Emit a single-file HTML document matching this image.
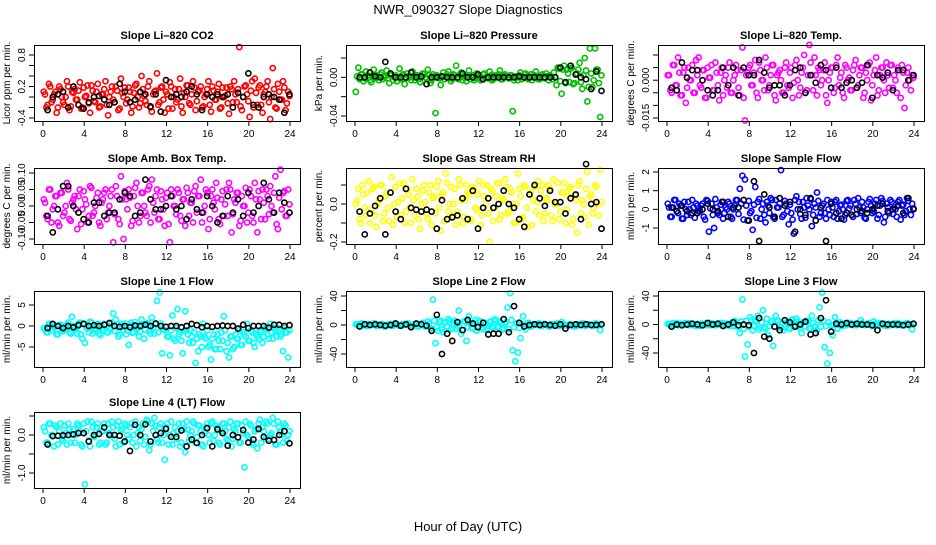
<!DOCTYPE html>
<html><head><meta charset="utf-8"><style>
body{margin:0;background:#fff}
svg text{font-family:"Liberation Sans",Arial,sans-serif;fill:#000}
</style></head><body>
<svg id="c" width="936" height="540" xmlns="http://www.w3.org/2000/svg">
<text x="468" y="14" text-anchor="middle" font-size="13">NWR_090327  Slope Diagnostics</text>
<text x="468" y="531" text-anchor="middle" font-size="13">Hour of Day (UTC)</text>
</svg>
<script>
const xTicks=[0,4,8,12,16,20,24];
const co2C=[0.1,-0.2,0.25,-0.1,0.05,-0.3,0.2,0.0,-0.15,0.3,-0.25,0.1,0.15,-0.05,0.28,-0.2,0.0,0.22,-0.3,0.12,-0.1,0.25,-0.18,0.05,0.3,-0.35,0.1,-0.05,0.2,-0.25,0.35,0.0,-0.12,0.18,-0.3,0.08,0.25,-0.2,0.4,0.02,-0.15,0.3,-0.28,0.1,0.45,-0.1,0.2,-0.3,0.05,0.28,-0.22,0.15,-0.05,0.35,-0.3,0.0,0.22,-0.15,0.3,-0.25,0.1,0.2,-0.18,0.05,0.3,-0.28,0.12,-0.05,0.25,-0.2,0.0,0.18,-0.32,0.15,0.3,-0.1,0.95,-0.25,0.2,0.05,-0.38,0.3,0.35,-0.15,0.22,-0.3,0.1,0.3,-0.42,0.55,-0.2,0.25,-0.05,0.3,-0.25,0.1];
const co2D=[0.05,-0.15,0.2,-0.05,0.1,-0.2,0.15,-0.1,0.0,0.2,-0.18,0.08,-0.05,0.12,-0.22,0.18,0.02,-0.12,0.22,-0.08,0.1,-0.2,0.05,0.15,-0.15,0.0,0.2,-0.1,0.12,-0.22,0.08,0.18,-0.05,0.1,-0.18,0.22,0.0,-0.12,0.15,-0.08,0.2,-0.2,0.05,0.12,-0.15,0.18,-0.05,0.1,-0.22,0.2,0.0,-0.1,0.15,-0.18,0.08,0.22,-0.12,0.05,0.18,-0.08,0.12,-0.2,0.0,0.15,-0.15,0.2,-0.05,0.1,-0.22,0.18,0.02,-0.12,0.2,-0.1,0.05,0.15,-0.18,0.0,0.22,-0.08,0.12,-0.2,0.08,0.18,-0.15,0.05,0.2,-0.1,0.0,0.15,-0.22,0.1,-0.05,0.18,-0.12,0.02];
const co2B=[-0.25,0.0,0.05,0.1,-0.2,0.2,-0.15,-0.22,-0.1,0.0,0.02,-0.05,-0.15,-0.1,0.25,0.1,-0.1,-0.05,0.1,0.05,-0.18,0.05,-0.28,0.32,0.0,0.05,0.0,0.1,0.2,0.05,-0.25,0.05,0.0,0.05,0.0,0.05,-0.2,0.08,0.0,0.45,-0.15,-0.2,0.0,0.05,0.0,-0.05,-0.3,0.05];
const presC=[-0.015,0.01,0.003,-0.004,0.006,0.0,-0.005,0.008,0.002,-0.003,0.005,0.0,0.007,-0.006,0.003,0.0,-0.004,0.009,0.002,-0.007,0.004,0.0,0.006,-0.003,0.002,-0.005,0.004,0.0,0.008,-0.006,0.003,-0.037,0.001,-0.008,0.005,0.0,0.006,-0.004,0.003,0.012,-0.002,0.005,0.0,-0.004,0.007,0.002,-0.003,0.004,0.001,-0.002,0.004,0.0,0.006,-0.003,0.002,0.0,0.007,-0.002,0.003,0.0,0.002,-0.035,0.001,-0.003,0.005,0.0,0.004,-0.002,0.003,0.0,0.006,-0.002,0.002,0.0,0.004,-0.003,0.001,0.005,-0.008,0.009,-0.017,0.012,0.008,-0.005,0.01,-0.006,0.004,0.015,-0.012,0.02,-0.025,0.03,-0.01,0.03,0.008,-0.041];
const presD=[0.001,-0.002,0.003,-0.001,0.002,-0.003,0.002,-0.001,0.0,0.003,-0.002,0.001,-0.001,0.002,-0.003,0.002,0.0,-0.002,0.003,-0.001,0.001,-0.003,0.001,0.002,-0.002,0.0,0.003,-0.001,0.002,-0.003,0.001,0.002,-0.001,0.001,-0.002,0.003,0.0,-0.002,0.002,-0.001,0.003,-0.003,0.001,0.002,-0.002,0.002,-0.001,0.001,-0.003,0.003,0.0,-0.001,0.002,-0.002,0.001,0.003,-0.002,0.001,0.002,-0.001,0.002,-0.003,0.0,0.002,-0.002,0.003,-0.001,0.001,-0.003,0.002,0.0,-0.002,0.003,-0.001,0.001,0.002,-0.002,0.0,0.01,-0.004,0.008,-0.006,0.004,0.009,-0.007,0.003,0.008,-0.005,0.002,0.007,-0.01,0.004,-0.003,0.008,-0.006,0.002];
const presB=[0.0,0.0,0.005,0.001,0.0,0.016,0.004,0.0,0.0,0.0,0.005,0.0,0.001,-0.007,0.0,0.0,0.001,0.0,0.0,0.0,0.004,0.0,0.0,0.003,-0.002,0.0,0.0,0.0,0.0,0.0,0.0,0.001,0.0,0.0,0.0,0.0,0.0,0.0,0.0,0.01,-0.005,0.012,0.003,0.0,-0.002,-0.012,0.006,-0.014];
const ltC=[0.002,-0.004,0.006,-0.002,0.009,-0.006,0.003,-0.009,0.005,0.0,-0.005,0.008,0.009,-0.003,0.004,-0.007,0.001,0.006,-0.004,0.003,-0.008,0.005,0.0,-0.003,0.007,-0.005,0.002,0.004,-0.006,0.013,-0.016,0.003,0.006,-0.002,0.008,-0.007,0.004,0.0,0.009,-0.004,0.002,0.006,-0.008,0.003,0.0,-0.005,0.007,-0.003,0.005,-0.001,0.008,-0.006,0.003,0.01,-0.004,0.014,0.002,0.009,-0.006,0.004,0.0,0.007,-0.009,0.003,0.005,-0.003,0.009,0.001,-0.005,0.006,0.0,-0.004,0.004,0.008,-0.002,0.005,-0.007,0.003,0.006,-0.008,0.002,0.009,-0.004,0.005,0.0,0.007,-0.003,0.006,0.002,-0.005,0.004,0.006,-0.011,0.003,0.0,0.002];
const ltD=[0.002,-0.005,0.006,-0.002,0.003,-0.006,0.005,-0.003,0.0,0.006,-0.005,0.002,-0.002,0.004,-0.007,0.005,0.001,-0.004,0.007,-0.002,0.003,-0.006,0.002,0.005,-0.005,0.0,0.006,-0.003,0.004,-0.007,0.002,0.005,-0.002,0.003,-0.005,0.007,0.0,-0.004,0.005,-0.002,0.006,-0.006,0.002,0.004,-0.005,0.005,-0.002,0.003,-0.007,0.006,0.0,-0.003,0.005,-0.005,0.002,0.007,-0.004,0.002,0.005,-0.002,0.004,-0.006,0.0,0.005,-0.005,0.006,-0.002,0.003,-0.007,0.005,0.001,-0.004,0.006,-0.003,0.002,0.005,-0.005,0.0,0.007,-0.002,0.004,-0.006,0.002,0.005,-0.005,0.002,0.006,-0.003,0.0,0.005,-0.007,0.003,-0.002,0.005,-0.004,0.001];
const ltB=[-0.003,-0.004,0.007,0.001,0.004,0.004,0.0,-0.004,-0.006,-0.004,0.005,-0.002,0.005,-0.006,0.005,0.002,0.002,0.008,0.003,-0.003,-0.002,-0.002,-0.006,-0.002,0.004,0.005,-0.005,0.002,-0.001,0.006,0.004,-0.003,0.005,-0.003,-0.001,0.0,-0.003,-0.001,0.006,-0.007,0.002,0.001,0.003,-0.004,0.004,0.004,0.0,0.002];
const ambC=[0.02,-0.03,0.05,-0.05,0.0,0.03,-0.06,0.04,-0.02,0.07,-0.04,0.01,0.03,-0.07,0.05,-0.01,0.02,-0.05,0.06,-0.03,0.0,0.04,-0.06,0.02,0.05,-0.02,0.03,-0.11,0.06,-0.04,0.09,-0.1,0.02,0.05,-0.06,0.03,0.07,-0.05,0.04,0.0,-0.03,0.06,0.08,-0.02,0.05,-0.04,0.02,-0.06,0.04,-0.11,0.03,0.0,0.05,-0.03,0.02,-0.06,0.04,0.01,-0.05,0.06,0.03,0.08,-0.02,0.05,-0.07,0.03,0.01,0.07,-0.04,0.02,-0.03,0.05,0.07,-0.08,0.02,0.04,-0.06,0.03,0.0,-0.05,0.05,-0.03,0.07,-0.08,0.02,0.05,-0.04,0.03,0.06,-0.02,0.09,-0.07,0.11,0.04,-0.03,0.05];
const ambD=[0.01,-0.04,0.05,-0.01,0.03,-0.05,0.04,-0.03,0.0,0.05,-0.045,0.02,-0.01,0.03,-0.055,0.045,0.005,-0.03,0.055,-0.02,0.025,-0.05,0.01,0.04,-0.04,0.0,0.05,-0.025,0.03,-0.055,0.02,0.045,-0.01,0.025,-0.045,0.055,0.0,-0.03,0.04,-0.02,0.05,-0.05,0.01,0.03,-0.04,0.045,-0.01,0.025,-0.055,0.05,0.0,-0.025,0.04,-0.045,0.02,0.055,-0.03,0.01,0.045,-0.02,0.03,-0.05,0.0,0.04,-0.04,0.05,-0.01,0.025,-0.055,0.045,0.005,-0.03,0.05,-0.025,0.01,0.04,-0.045,0.0,0.055,-0.02,0.03,-0.05,0.02,0.045,-0.04,0.01,0.05,-0.025,0.0,0.04,-0.055,0.025,-0.01,0.045,-0.03,0.005];
const ambB=[-0.03,-0.08,-0.01,0.06,0.06,0.0,-0.02,-0.04,-0.05,0.01,0.01,-0.03,-0.02,-0.02,0.02,0.04,0.03,-0.03,-0.02,0.08,0.02,-0.01,-0.01,0.0,0.03,-0.01,0.0,-0.04,0.02,-0.01,-0.02,0.03,0.0,-0.05,-0.03,0.03,-0.02,0.02,-0.03,0.04,-0.02,0.0,0.07,0.02,-0.02,0.04,0.01,-0.02];
const rhC=[0.0,0.08,-0.1,0.05,-0.06,0.12,-0.03,0.09,-0.12,0.02,0.1,-0.05,0.06,-0.09,0.14,0.0,-0.07,0.11,0.03,-0.1,0.08,-0.02,0.13,-0.06,0.04,-0.13,0.07,0.01,-0.08,0.1,0.03,-0.05,0.12,-0.14,0.06,0.16,-0.04,0.09,0.0,-0.11,0.13,0.02,-0.07,0.1,0.05,-0.09,0.08,-0.03,0.12,-0.06,0.04,0.1,-0.2,0.07,-0.02,0.11,-0.08,0.03,0.13,-0.05,0.08,0.0,-0.1,0.16,0.04,-0.07,0.09,-0.12,0.06,0.02,-0.04,0.12,0.07,-0.09,0.03,0.1,-0.06,0.13,0.0,-0.08,0.06,0.11,-0.03,0.08,-0.11,0.05,-0.15,0.12,0.02,-0.07,0.17,0.04,-0.05,0.1,0.0,0.18];
const rhD=[0.02,-0.08,0.1,-0.02,0.06,-0.1,0.08,-0.06,0.0,0.1,-0.09,0.04,-0.02,0.06,-0.11,0.09,0.01,-0.06,0.11,-0.04,0.05,-0.1,0.02,0.08,-0.08,0.0,0.1,-0.05,0.06,-0.11,0.04,0.09,-0.02,0.05,-0.09,0.11,0.0,-0.06,0.08,-0.04,0.1,-0.1,0.02,0.06,-0.08,0.09,-0.02,0.05,-0.11,0.1,0.0,-0.05,0.08,-0.09,0.04,0.11,-0.06,0.02,0.09,-0.04,0.06,-0.1,0.0,0.08,-0.08,0.1,-0.02,0.05,-0.11,0.09,0.01,-0.06,0.1,-0.05,0.02,0.08,-0.09,0.0,0.11,-0.04,0.06,-0.1,0.04,0.09,-0.08,0.02,0.1,-0.05,0.0,0.08,-0.11,0.05,-0.02,0.09,-0.06,0.01];
const rhB=[-0.04,-0.16,-0.05,-0.01,0.03,-0.16,0.06,-0.04,-0.08,0.08,-0.02,-0.03,-0.04,-0.03,-0.04,-0.13,0.02,-0.08,-0.07,-0.06,0.03,-0.08,0.07,-0.13,-0.02,0.03,-0.02,0.0,0.07,0.0,-0.02,-0.08,-0.12,0.05,0.1,0.03,-0.01,0.07,0.01,0.01,-0.05,0.03,0.05,-0.08,0.21,0.0,0.01,-0.13];
const sfC=[0.3,-0.4,0.1,0.5,-0.2,0.2,-0.5,0.0,0.4,-0.3,0.1,0.3,-0.1,0.2,-0.4,0.5,-1.2,0.3,-1.0,0.1,-0.3,0.4,-0.2,0.0,0.3,-0.5,0.2,0.5,1.1,1.8,1.6,-0.6,-0.2,-1.1,1.2,0.4,-0.5,0.3,-0.7,0.2,0.6,-0.4,0.5,0.1,2.1,-0.3,0.3,-0.8,-0.2,-1.3,0.7,0.4,-0.5,0.1,0.6,0.0,-0.9,0.3,0.9,-0.4,0.2,-0.2,0.5,-0.3,0.1,0.4,-0.5,0.2,0.0,-0.3,0.5,0.2,-0.4,0.3,0.6,-0.2,0.1,-0.5,0.4,0.2,-0.1,0.5,-0.3,0.6,-0.7,0.3,-0.2,0.4,0.1,-0.4,0.5,0.2,-0.3,0.6,0.0,0.3];
const sfD=[0.1,-0.4,0.5,-0.1,0.3,-0.5,0.4,-0.3,0.0,0.5,-0.45,0.2,-0.1,0.3,-0.55,0.45,0.05,-0.3,0.55,-0.2,0.25,-0.5,0.1,0.4,-0.4,0.0,0.5,-0.25,0.3,-0.55,0.2,0.45,-0.1,0.25,-0.45,0.55,0.0,-0.3,0.4,-0.2,0.5,-0.5,0.1,0.3,-0.4,0.45,-0.1,0.25,-0.55,0.5,0.0,-0.25,0.4,-0.45,0.2,0.55,-0.3,0.1,0.45,-0.2,0.3,-0.5,0.0,0.4,-0.4,0.5,-0.1,0.25,-0.55,0.45,0.05,-0.3,0.5,-0.25,0.1,0.4,-0.45,0.0,0.55,-0.2,0.3,-0.5,0.2,0.45,-0.4,0.1,0.5,-0.25,0.0,0.4,-0.55,0.25,-0.1,0.45,-0.3,0.05];
const sfB=[0.1,-0.1,0.2,-0.1,-0.2,-0.2,0.0,0.3,0.0,-0.1,0.4,-0.4,0.1,0.1,0.5,-0.6,1.5,-1.7,0.8,0.1,-0.4,0.6,0.2,0.4,-1.2,0.0,-0.3,0.6,-0.6,0.1,-1.7,0.3,-0.2,-0.5,-0.2,-0.3,0.0,-0.1,-0.2,0.0,0.2,0.3,-0.1,0.0,0.2,-0.2,0.6,0.0];
const l1C=[-0.5,-1.5,0.5,-1.0,-0.3,-2.0,0.2,-1.2,-0.8,0.3,-1.5,2.2,-0.5,-1.8,0.8,-3.0,-4.0,-0.6,1.0,-1.8,-0.5,0.5,-2.2,-1.0,0.4,-1.5,-0.8,3.0,1.5,-2.5,0.5,-1.0,-2.0,-4.5,0.8,-1.5,-0.3,-2.5,1.5,-3.0,0.5,-1.2,2.0,-1.8,6.0,8.0,-6.5,-1.0,-2.5,-7.0,2.5,-3.5,4.0,-1.5,-6.5,3.5,-2.0,-1.0,-4.0,-8.8,-6.0,-2.5,0.5,-3.0,-5.0,-8.0,-2.0,-5.5,-3.5,-1.5,2.3,-6.0,-7.5,-2.5,-5.0,-3.0,-1.0,-4.5,-2.0,0.5,-3.5,-1.5,-5.0,-2.5,-1.0,-4.0,-0.5,-2.0,0.5,-3.0,-1.0,-0.5,-2.5,-6.0,-1.5,-7.5];
const l1D=[-0.5,-1.5,0.5,-1.0,0.0,-2.0,0.3,-1.2,-0.6,0.8,-1.8,0.0,-0.8,0.5,-2.0,0.6,-0.3,-1.5,0.8,-1.0,0.2,-1.8,-0.4,0.5,-1.5,-0.5,0.8,-1.2,0.3,-2.0,-0.2,0.6,-1.0,0.2,-1.6,0.9,-0.5,-1.3,0.5,-0.9,0.7,-1.8,-0.3,0.4,-1.5,0.6,-0.8,-0.2,-2.5,-1.0,-3.0,-0.5,-2.0,-3.5,-1.2,-1.0,-4.0,-2.5,-1.5,-3.0,-2.0,-5.0,-2.5,-1.0,-4.5,-3.0,-5.5,-2.0,-5.5,-3.5,-1.0,-4.0,-2.5,-5.5,-2.0,-3.0,-4.5,-1.5,-2.5,-3.5,-1.0,-4.0,-2.0,-3.0,-1.5,-2.5,-0.5,-3.0,-1.5,-0.5,-2.5,-1.0,-2.0,-0.5,-1.5,-1.0];
const l1B=[-0.5,0.5,0.0,-0.5,0.0,-0.3,0.2,0.5,0.0,0.2,0.0,0.3,0.7,0.0,-0.2,0.0,-0.3,0.1,0.0,0.3,0.0,0.6,0.0,-0.2,0.0,0.0,-0.3,0.0,0.5,0.2,-0.3,0.0,-0.2,0.0,0.1,0.0,0.0,-0.6,0.3,-0.5,0.0,0.0,0.0,-0.4,0.3,0.3,0.0,0.2];
const l2C=[1,-1,2,0,-1,1,0,2,-1,0,1,-2,0,1,-1,2,0,-1,1,0,2,-1,0,1,-2,1,3,-2,5,-4,35,-25,-8,6,-10,4,8,-6,3,-5,20,-12,5,-22,12,-4,3,-8,6,-3,2,-5,4,-2,8,-3,5,-6,2,24,44,-35,-50,-38,-18,12,-6,3,-2,1,0,2,-1,1,0,-2,1,0,2,-1,4,0,-1,1,0,-2,1,0,2,-1,1,0,-1,2,0,-7];
const l2D=[1,-1,2,0,-1,1,0,2,-1,0,1,-2,0,1,-1,2,0,-1,1,0,2,-1,0,1,-2,1,0,-1,2,-5,6,-3,4,-6,3,-2,5,-4,6,-1,3,-7,5,-3,2,-5,7,-2,4,-6,3,-1,5,-4,6,-2,3,-5,4,-6,7,-3,2,-4,1,-1,2,0,-1,1,0,2,-1,1,0,-2,1,0,2,-1,1,0,-1,1,0,-2,1,0,2,-1,1,0,-1,2,0,1];
const l2B=[-2,1,0,1,0,-1,0,2,-1,1,-3,2,1,-1,-8,14,-40,-12,-22,4,-7,7,2,-3,3,-13,-12,-12,8,-10,26,3,-2,0,1,0,1,0,-1,1,-5,0,1,0,1,0,0,1];
const l3C=[1,-1,2,0,-1,1,0,2,-1,0,1,-2,0,1,-1,2,0,-1,1,0,2,-1,0,1,-2,3,5,-3,-12,35,-45,-28,10,-8,6,12,-4,20,-6,-15,3,-30,12,5,-4,-8,3,-5,6,-3,8,-2,-12,4,5,-5,12,-3,-8,24,45,-32,-55,-40,-15,10,-6,3,-2,1,0,2,-1,1,0,6,1,0,2,-1,4,0,-1,1,0,-2,1,0,2,-1,1,0,-1,2,0,-7];
const l3D=[0,1,-1,2,0,-1,1,0,2,-1,0,1,-2,0,1,-1,2,0,-1,1,0,2,-1,0,1,-2,3,-1,4,-6,5,-3,6,-2,4,-7,3,-4,8,-2,5,-3,6,-5,2,-4,3,-6,7,-1,4,-5,3,-3,5,-6,2,-4,6,-3,5,-2,3,-1,0,2,-1,1,0,-1,2,0,1,-1,0,2,-1,1,0,-2,1,0,2,-1,1,0,-1,1,0,2,-1,0,1,-1,0,1];
const l3B=[-3,0,-1,0,1,0,-1,2,0,1,-2,0,3,-1,0,-1,-40,9,-17,-20,-3,-8,6,3,-3,0,4,-14,-12,9,34,-10,1,0,2,0,1,0,0,-1,-8,1,0,0,0,-1,0,1];
const l4C=[0.2,-0.2,0.3,0.0,-0.3,0.2,0.1,-0.1,0.25,-0.25,0.15,0.0,-0.2,0.3,0.1,-0.3,-1.3,0.35,-0.3,0.2,0.0,0.3,-0.2,0.1,-0.25,0.3,0.0,0.2,-0.3,0.35,0.1,-0.2,0.25,-0.1,0.3,0.0,-0.3,0.2,0.15,-0.25,0.4,-0.4,0.3,0.45,-0.1,0.2,-0.2,-0.65,0.3,0.0,-0.25,0.2,0.1,-0.3,0.3,-0.45,0.15,0.0,0.35,-0.2,0.25,0.1,-0.3,0.2,0.0,0.3,-0.15,0.25,-0.2,0.1,0.3,-0.1,0.2,-0.3,0.15,0.3,-0.2,0.25,-0.85,0.0,0.3,-0.2,0.1,-0.35,0.4,0.2,-0.1,0.3,0.0,0.45,-0.25,0.35,0.1,-0.2,0.25,0.0];
const l4D=[0.1,-0.2,0.3,0.0,0.25,-0.25,0.3,-0.15,0.05,0.3,-0.2,0.15,0.0,0.25,-0.25,0.3,0.1,-0.15,0.35,-0.05,0.2,-0.25,0.1,0.3,-0.2,0.05,0.35,-0.1,0.25,-0.25,0.15,0.3,0.0,0.2,-0.2,0.35,0.05,-0.15,0.3,-0.05,0.35,-0.25,0.1,0.25,-0.2,0.3,0.0,0.2,-0.25,0.35,0.05,-0.1,0.3,-0.2,0.15,0.35,-0.15,0.1,0.3,-0.05,0.25,-0.25,0.05,0.3,-0.2,0.35,0.0,0.2,-0.25,0.3,0.1,-0.15,0.35,-0.1,0.1,0.3,-0.2,0.05,0.35,-0.05,0.25,-0.25,0.15,0.3,-0.2,0.1,0.35,-0.1,0.05,0.3,-0.25,0.2,0.0,0.3,-0.15,0.1];
const l4B=[-0.25,-0.03,-0.02,-0.01,0.0,0.02,0.05,0.05,-0.17,0.0,0.03,0.2,0.0,0.0,-0.02,-0.17,-0.42,0.27,0.0,0.28,-0.17,0.0,0.05,0.16,-0.05,-0.05,0.12,-0.3,-0.12,-0.21,0.0,0.18,-0.3,0.15,0.05,-0.28,0.0,-0.06,0.13,-0.2,-0.12,0.16,-0.05,-0.15,-0.13,0.0,0.1,-0.22];

const svg=document.getElementById('c');
const NS='http://www.w3.org/2000/svg';
function mk(t,a,p){const e=document.createElementNS(NS,t);for(const k in a)e.setAttribute(k,a[k]);(p||svg).appendChild(e);return e;}
const colL=[34,346,658], rowT=[45,168,291,412];
const panels=[
 {key:'co2',title:'Slope Li\u2013820 CO2',yl:'Licor ppm per min.',col:0,row:0,c:co2C,d:co2D,b:co2B,clr:'#ff0000',ticks:[-0.4,-0.2,0,0.2,0.4,0.6,0.8],labs:['-0.4','','','0.2','','','0.8'],a:[-0.4,118],z:[0.8,55]},
 {key:'pressure',title:'Slope Li\u2013820 Pressure',yl:'kPa per min.',col:1,row:0,c:presC,d:presD,b:presB,clr:'#00c000',ticks:[-0.04,-0.02,0,0.02],labs:['-0.04','','0.00',''],a:[-0.04,116],z:[0.02,58]},
 {key:'li-temp',title:'Slope Li\u2013820 Temp.',yl:'degrees C per min.',col:2,row:0,c:ltC,d:ltD,b:ltB,clr:'#ff00ff',ticks:[-0.015,-0.01,-0.005,0,0.005,0.01],labs:['-0.015','','','0.000','',''],a:[-0.015,118],z:[0.01,55]},
 {key:'amb-box-temp',title:'Slope Amb. Box Temp.',yl:'degrees C per min.',col:0,row:1,c:ambC,d:ambD,b:ambB,clr:'#ff00ff',ticks:[-0.1,-0.05,0,0.05,0.1],labs:['-0.10','-0.05','0.00','0.05','0.10'],a:[-0.1,239],z:[0.1,173]},
 {key:'gas-rh',title:'Slope Gas Stream RH',yl:'percent per min.',col:1,row:1,c:rhC,d:rhD,b:rhB,clr:'#ffff00',ticks:[-0.2,-0.1,0,0.1],labs:['-0.2','','0.0',''],a:[-0.2,242],z:[0.1,185]},
 {key:'sample-flow',title:'Slope Sample Flow',yl:'ml/min per min.',col:2,row:1,c:sfC,d:sfD,b:sfB,clr:'#0000ff',ticks:[-1,0,1,2],labs:['-1','0','1','2'],a:[-1,228],z:[2,172]},
 {key:'line1-flow',title:'Slope Line 1 Flow',yl:'ml/min per min.',col:0,row:2,c:l1C,d:l1D,b:l1B,clr:'#00ffff',ticks:[-5,0,5],labs:['-5','0','5'],a:[-5,347],z:[5,305]},
 {key:'line2-flow',title:'Slope Line 2 Flow',yl:'ml/min per min.',col:1,row:2,c:l2C,d:l2D,b:l2B,clr:'#00ffff',ticks:[-40,-20,0,20,40],labs:['-40','','0','','40'],a:[-40,354],z:[40,296]},
 {key:'line3-flow',title:'Slope Line 3 Flow',yl:'ml/min per min.',col:2,row:2,c:l3C,d:l3D,b:l3B,clr:'#00ffff',ticks:[-40,-20,0,20,40],labs:['-40','','0','','40'],a:[-40,353],z:[40,296]},
 {key:'line4-flow',title:'Slope Line 4 (LT) Flow',yl:'ml/min per min.',col:0,row:3,c:l4C,d:l4D,b:l4B,clr:'#00ffff',ticks:[-1,-0.5,0,0.5],labs:['-1.0','','0.0',''],a:[-1,473],z:[0.5,416]}
];
panels.forEach(p=>{
 const L=colL[p.col],T=rowT[p.row],R=L+266,B=T+76;
 const g=mk('g',{});
 
 
 const xs=h=>L+9+h*(247/24);
 const ys=v=>p.a[1]+(v-p.a[0])*(p.z[1]-p.a[1])/(p.z[0]-p.a[0]);
 const t=mk('text',{x:(L+R)/2,y:T-6,'text-anchor':'middle','font-size':11,'font-weight':'bold'},g);
 t.textContent=p.title;
 
 
 const yl=mk('text',{x:0,y:0,transform:`translate(${L-24},${(T+B)/2}) rotate(-90)`,'text-anchor':'middle','font-size':10},g);
 yl.textContent=p.yl;
 
 
 xTicks.forEach(h=>{
  mk('line',{x1:xs(h),x2:xs(h),y1:B,y2:B+5,stroke:'#000'},g);
  const tx=mk('text',{x:xs(h),y:B+16,'text-anchor':'middle','font-size':10},g);
  tx.textContent=h;
  
  
 });
 mk('line',{x1:xs(0),x2:xs(24),y1:B+0.5,y2:B+0.5,stroke:'#000'},g);
 p.ticks.forEach((v,i)=>{
  mk('line',{x1:L-5,x2:L,y1:ys(v),y2:ys(v),stroke:'#000'},g);
  if(p.labs[i]){
   const ty=mk('text',{x:0,y:0,transform:`translate(${L-9},${ys(v)}) rotate(-90)`,'text-anchor':'middle','font-size':10},g);
   ty.textContent=p.labs[i];
   
   
  }
 });
 const pts=mk('g',{fill:'none','stroke-width':1.6},g);
 p.d.forEach((v,i)=>{
  const h=(i+0.8)*24/p.d.length;
  const c=mk('circle',{cx:xs(h),cy:ys(v),r:2.6,stroke:p.clr},pts);
  
  
 });
 p.c.forEach((v,i)=>{
  const h=(i+0.3)*24/p.c.length;
  const c=mk('circle',{cx:xs(h),cy:ys(v),r:2.6,stroke:p.clr},pts);
  
  
 });
 p.b.forEach((v,i)=>{
  const h=(i+1)*24/p.b.length-0.05;
  const c=mk('circle',{cx:xs(h),cy:ys(v),r:2.6,stroke:'#000'},pts);
  
  
 });
 mk('rect',{x:L+0.5,y:T+0.5,width:266,height:76,fill:'none',stroke:'#000'},g);
});
</script>
</body></html>
